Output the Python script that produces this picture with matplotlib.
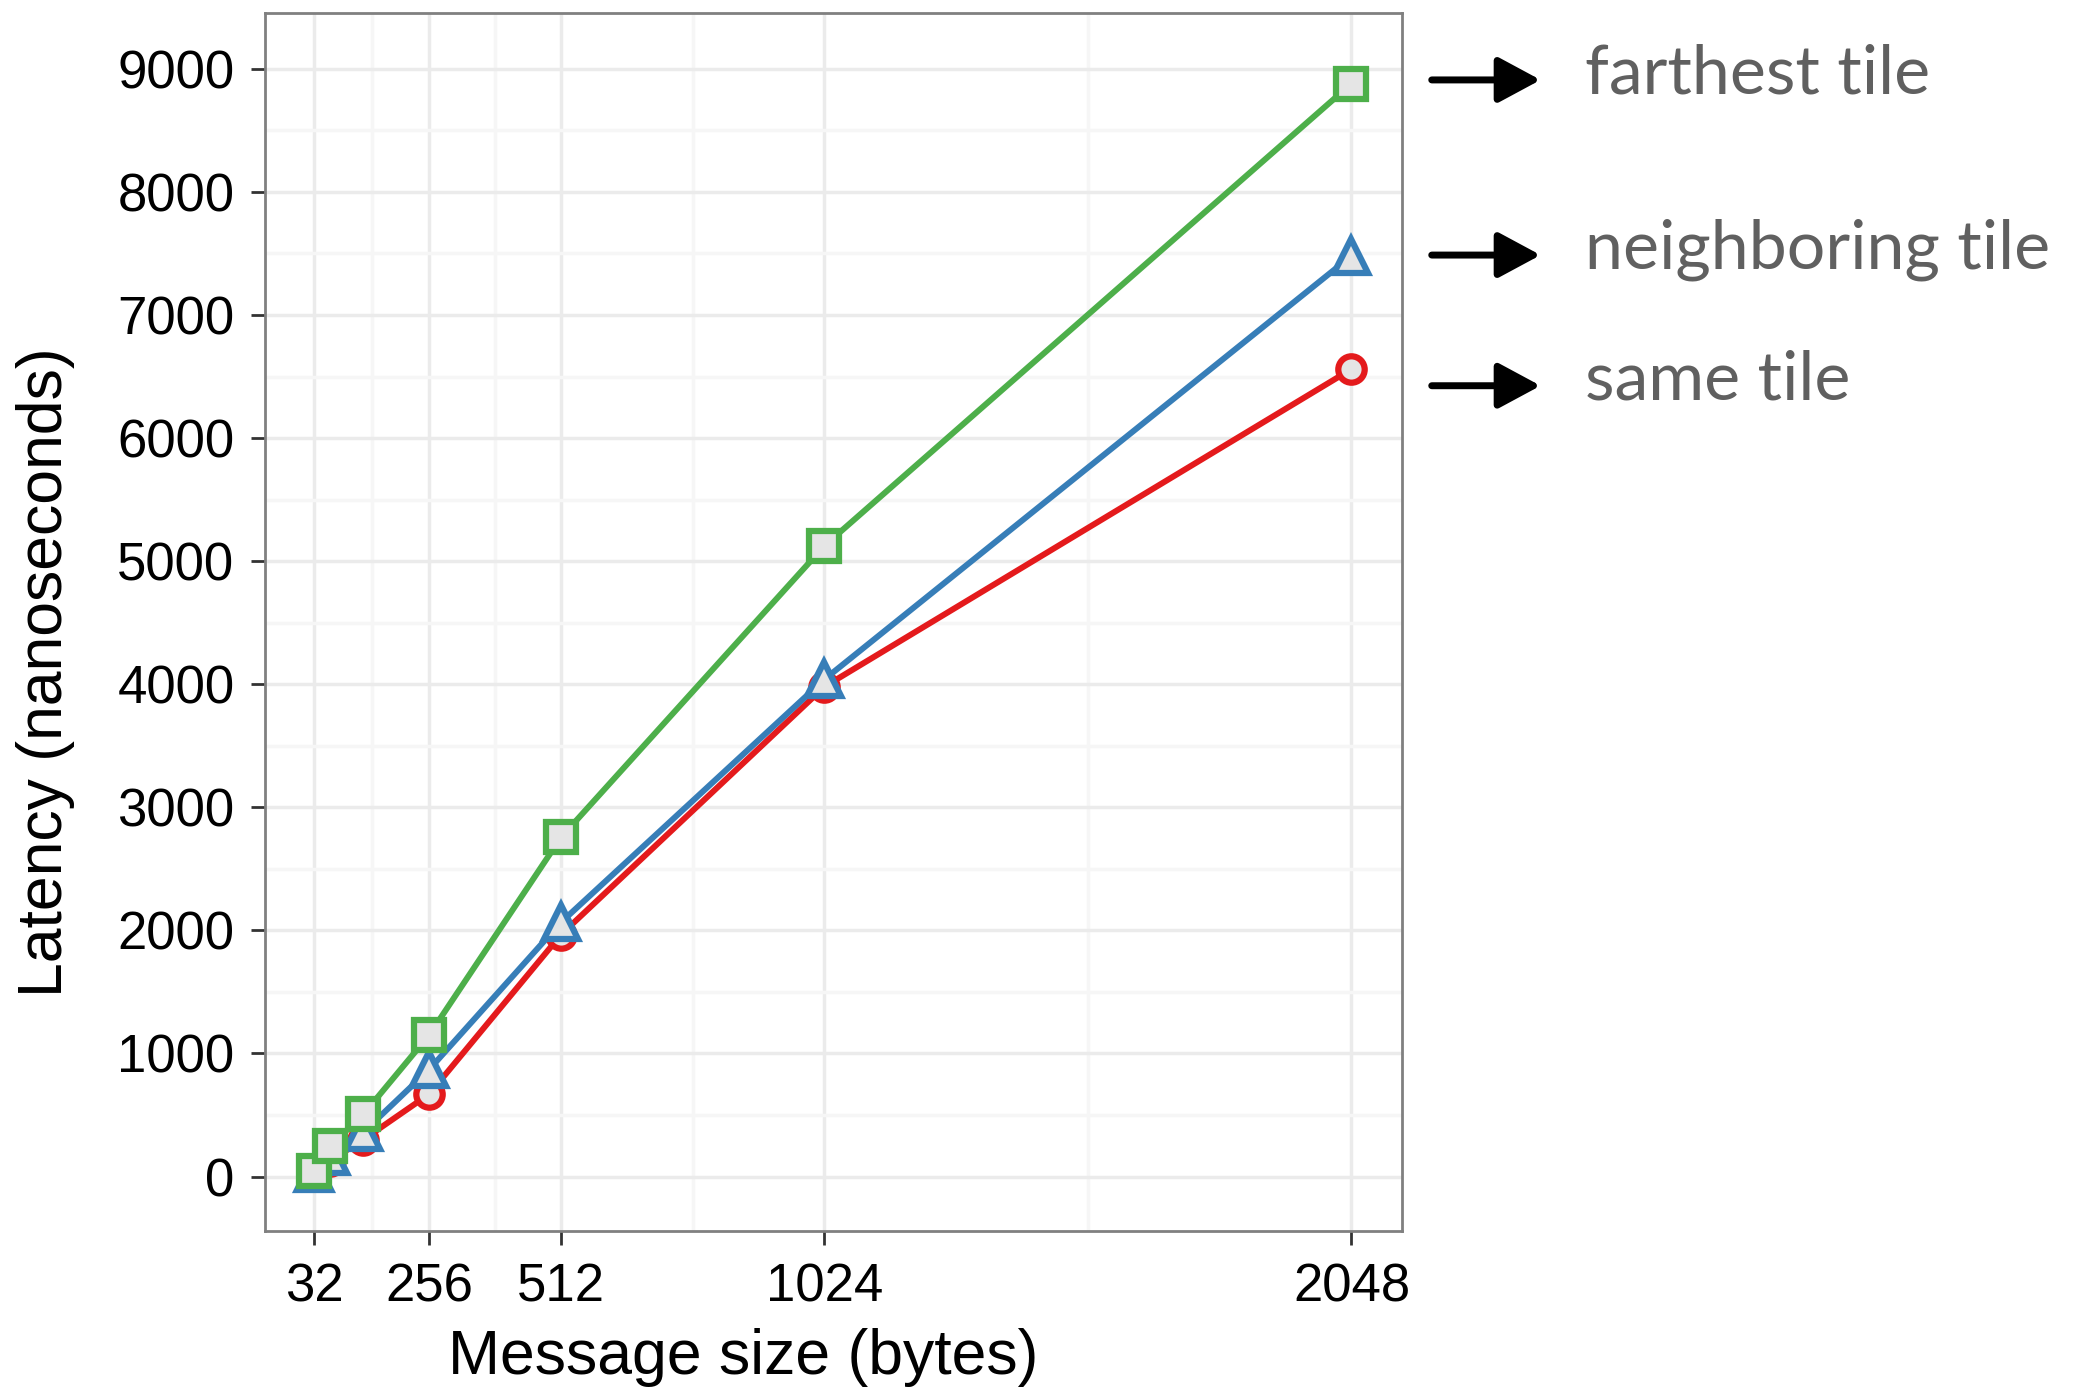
import matplotlib.pyplot as plt
from matplotlib.ticker import MultipleLocator, FixedLocator
from matplotlib.patches import FancyArrowPatch

sizes = [32, 64, 128, 256, 512, 1024, 2048]
same_tile = [10, 130, 300, 670, 1965, 3980, 6560]
neighboring_tile = [30, 165, 360, 870, 2065, 4040, 7480]
farthest_tile = [45, 250, 505, 1150, 2755, 5125, 8880]

x_ticks = [32, 256, 512, 1024, 2048]
x_minor = [144, 384, 768, 1536]

series = [
    ("same tile", same_tile, "#E41A1C", "o", 19),
    ("neighboring tile", neighboring_tile, "#377EB8", "^", 24),
    ("farthest tile", farthest_tile, "#4DAF4A", "s", 21),
]

plt.rcParams["font.family"] = ["Liberation Sans", "DejaVu Sans"]

fig = plt.figure(figsize=(20.8, 13.9), dpi=100)
ax = fig.add_axes([0.1274, 0.1144, 0.5466, 0.8762])

for name, vals, color, mk, ms in series:
    ax.plot(sizes, vals, color=color, lw=4.3, marker=mk, markersize=ms,
            markerfacecolor="#E5E5E5", markeredgecolor=color,
            markeredgewidth=4.5, zorder=3)

ax.set_xlim(-63, 2146)
ax.set_ylim(-442, 9453)
ax.xaxis.set_major_locator(FixedLocator(x_ticks))
ax.xaxis.set_minor_locator(FixedLocator(x_minor))
ax.yaxis.set_major_locator(MultipleLocator(1000))
ax.yaxis.set_minor_locator(MultipleLocator(500))
ax.grid(which="major", color="#EBEBEB", lw=2.5)
ax.grid(which="minor", color="#F6F6F6", lw=2.5)
ax.set_axisbelow(True)

for s in ax.spines.values():
    s.set_color("#808080")
    s.set_linewidth(2)

ax.tick_params(which="major", direction="out", length=10, width=2,
               color="#333333", labelsize=38)
ax.tick_params(axis="x", pad=13)
ax.tick_params(axis="y", pad=12)
ax.tick_params(which="minor", length=0)

ax.set_xlabel("Message size (bytes)", fontsize=45)
ax.set_ylabel("Latency (nanoseconds)", fontsize=45)
ax.xaxis.set_label_coords(0.421, -0.080)
ax.yaxis.set_label_coords(-0.167, 0.459)

labels = [("farthest tile", 0.9425), ("neighboring tile", 0.8165), ("same tile", 0.7225)]
for text, yf in labels:
    fig.patches.append(FancyArrowPatch(
        (0.687, yf), (0.742, yf), transform=fig.transFigure,
        arrowstyle="-|>,head_length=1.3,head_width=0.7", lw=5,
        color="black", mutation_scale=20))
    fig.text(0.762, yf + 0.004, text, fontsize=49, color="#606060",
             family=["Lato", "DejaVu Sans"], va="center", ha="left")

fig.savefig("out.png", dpi=100)
